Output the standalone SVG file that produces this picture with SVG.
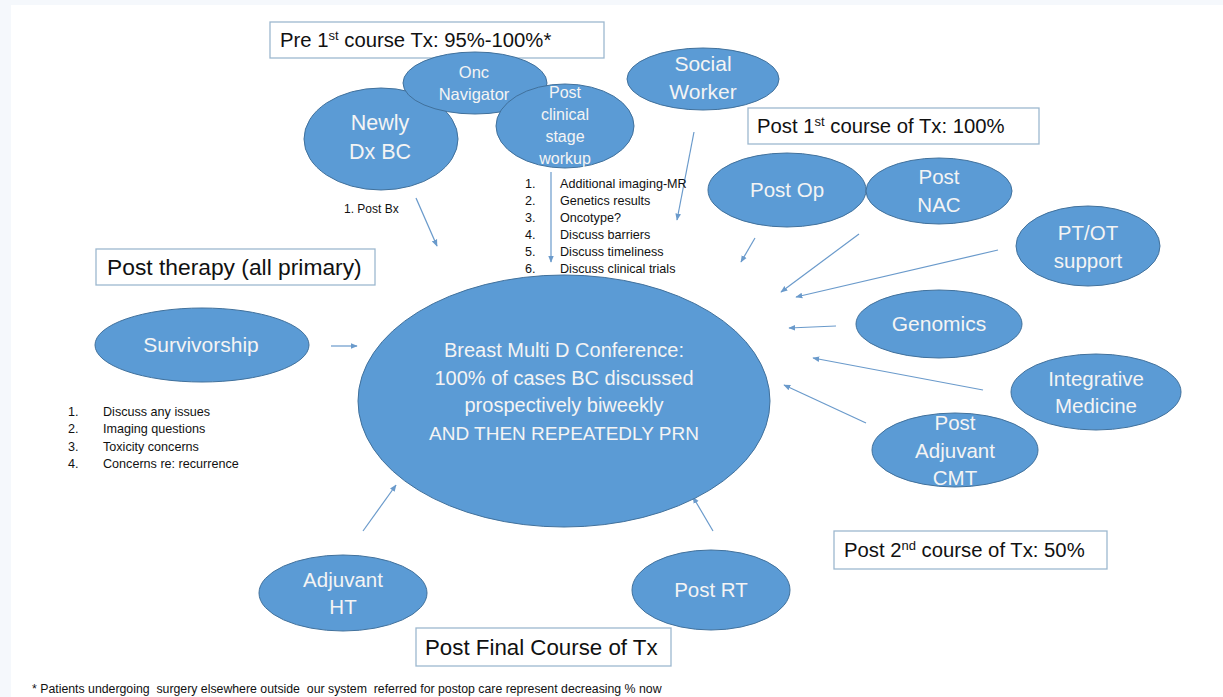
<svg xmlns="http://www.w3.org/2000/svg" width="1223" height="697" viewBox="0 0 1223 697">
<style>
.n{fill:#5b9bd5;stroke:#41719c;stroke-width:1}
.nt{fill:#f4f4f4;font-family:"Liberation Sans",Arial,sans-serif;text-anchor:middle}
.b{fill:#ffffff;stroke:#9db8cf;stroke-width:1.3}
.bt{fill:#111;font-family:"Liberation Sans",Arial,sans-serif}
.l{fill:#111;font-family:"Liberation Sans",Arial,sans-serif}
.c{stroke:#6a9acb;stroke-width:1.2;fill:none;marker-end:url(#ah)}
</style>
<defs>
<marker id="ah" viewBox="0 0 10 10" refX="9" refY="5" markerWidth="7" markerHeight="7" orient="auto" markerUnits="userSpaceOnUse">
<path d="M0,1 L10,5 L0,9 z" fill="#6a9acb"/>
</marker>
</defs>
<rect x="0" y="0" width="1223" height="697" fill="#f5f8fc"/>
<rect x="11" y="5" width="1212" height="692" fill="#ffffff"/>

<g id="connectors">
<line class="c" x1="416" y1="198" x2="437" y2="246"/>
<line class="c" x1="551" y1="172" x2="551" y2="262"/>
<line class="c" x1="694" y1="132" x2="677" y2="220"/>
<line class="c" x1="755" y1="238" x2="741" y2="262"/>
<line class="c" x1="859" y1="234" x2="781" y2="292"/>
<line class="c" x1="998" y1="250" x2="796" y2="297"/>
<line class="c" x1="836" y1="326" x2="789" y2="328"/>
<line class="c" x1="983" y1="390" x2="813" y2="358"/>
<line class="c" x1="866" y1="423" x2="784" y2="385"/>
<line class="c" x1="331" y1="346" x2="357" y2="346"/>
<line class="c" x1="363" y1="531" x2="396" y2="485"/>
<line class="c" x1="713" y1="531" x2="693" y2="497"/>
</g>

<g id="box-pre1">
<rect class="b" x="270" y="22" width="334" height="36"/>
<text class="bt" font-size="20.3" x="280" y="47">Pre 1<tspan dy="-7" font-size="13">st</tspan><tspan dy="7"> course Tx: 95%-100%*</tspan></text>
</g>
<g id="box-post1">
<rect class="b" x="748" y="108" width="291" height="36"/>
<text class="bt" font-size="20.3" x="757" y="133">Post 1<tspan dy="-7" font-size="13">st</tspan><tspan dy="7"> course of Tx: 100%</tspan></text>
</g>
<g id="box-posttherapy">
<rect class="b" x="96" y="249" width="279" height="36"/>
<text class="bt" font-size="22.8" x="107" y="275">Post therapy (all primary)</text>
</g>
<g id="box-post2">
<rect class="b" x="834" y="531" width="273" height="38"/>
<text class="bt" font-size="20.3" x="844" y="557">Post 2<tspan dy="-7" font-size="13">nd</tspan><tspan dy="7"> course of Tx: 50%</tspan></text>
</g>
<g id="box-final">
<rect class="b" x="416" y="628" width="255" height="38"/>
<text class="bt" font-size="22.3" x="425" y="655">Post Final Course of Tx</text>
</g>

<g id="node-newly">
<ellipse class="n" cx="381" cy="139" rx="77" ry="51"/>
<text class="nt" font-size="21.5" x="380" y="130">Newly</text>
<text class="nt" font-size="21.5" x="380" y="159">Dx BC</text>
</g>
<g id="node-onc">
<ellipse class="n" cx="475" cy="83" rx="72" ry="31"/>
<text class="nt" font-size="16.5" x="474" y="78">Onc</text>
<text class="nt" font-size="16.5" x="474" y="100">Navigator</text>
</g>
<g id="node-postclinical">
<ellipse class="n" cx="565" cy="126" rx="69" ry="42"/>
<text class="nt" font-size="16" x="565" y="98">Post</text>
<text class="nt" font-size="16" x="565" y="120">clinical</text>
<text class="nt" font-size="16" x="565" y="142">stage</text>
<text class="nt" font-size="16" x="565" y="164">workup</text>
</g>
<g id="node-social">
<ellipse class="n" cx="703" cy="79" rx="76" ry="31"/>
<text class="nt" font-size="21" x="703" y="71">Social</text>
<text class="nt" font-size="21" x="703" y="99">Worker</text>
</g>
<g id="node-postop">
<ellipse class="n" cx="787" cy="190" rx="79" ry="37"/>
<text class="nt" font-size="20.5" x="787" y="197">Post Op</text>
</g>
<g id="node-postnac">
<ellipse class="n" cx="939" cy="191" rx="73" ry="33"/>
<text class="nt" font-size="20.5" x="939" y="184">Post</text>
<text class="nt" font-size="20.5" x="939" y="212">NAC</text>
</g>
<g id="node-ptot">
<ellipse class="n" cx="1088" cy="246" rx="72" ry="40"/>
<text class="nt" font-size="20.5" x="1088" y="240">PT/OT</text>
<text class="nt" font-size="20.5" x="1088" y="268">support</text>
</g>
<g id="node-genomics">
<ellipse class="n" cx="939" cy="324" rx="83" ry="34"/>
<text class="nt" font-size="21" x="939" y="331">Genomics</text>
</g>
<g id="node-integrative">
<ellipse class="n" cx="1096" cy="392" rx="85" ry="38"/>
<text class="nt" font-size="20.5" x="1096" y="386">Integrative</text>
<text class="nt" font-size="20.5" x="1096" y="413">Medicine</text>
</g>
<g id="node-postadjcmt">
<ellipse class="n" cx="955" cy="450" rx="83" ry="37"/>
<text class="nt" font-size="20.5" x="955" y="430">Post</text>
<text class="nt" font-size="20.5" x="955" y="458">Adjuvant</text>
<text class="nt" font-size="20.5" x="955" y="485">CMT</text>
</g>
<g id="node-survivorship">
<ellipse class="n" cx="202" cy="345" rx="107" ry="37"/>
<text class="nt" font-size="21" x="201" y="352">Survivorship</text>
</g>
<g id="node-adjht">
<ellipse class="n" cx="343" cy="593" rx="84" ry="38"/>
<text class="nt" font-size="20.5" x="343" y="587">Adjuvant</text>
<text class="nt" font-size="20.5" x="343" y="614">HT</text>
</g>
<g id="node-postrt">
<ellipse class="n" cx="711" cy="590" rx="79" ry="40"/>
<text class="nt" font-size="20.5" x="711" y="597">Post RT</text>
</g>
<g id="node-center">
<ellipse class="n" cx="564" cy="401" rx="206" ry="126"/>
<text class="nt" font-size="20" x="564" y="357">Breast Multi D Conference:</text>
<text class="nt" font-size="20" x="564" y="385">100% of cases BC discussed</text>
<text class="nt" font-size="20" x="564" y="412">prospectively biweekly</text>
<text class="nt" font-size="19" x="564" y="440">AND THEN REPEATEDLY PRN</text>
</g>

<g id="list-postbx">
<text class="l" font-size="12" x="344" y="213">1. Post Bx</text>
</g>
<g id="list-workup" font-size="12.6">
<text class="l" x="525" y="188">1.</text><text class="l" x="560" y="188">Additional imaging-MR</text>
<text class="l" x="525" y="205">2.</text><text class="l" x="560" y="205">Genetics results</text>
<text class="l" x="525" y="222">3.</text><text class="l" x="560" y="222">Oncotype?</text>
<text class="l" x="525" y="239">4.</text><text class="l" x="560" y="239">Discuss barriers</text>
<text class="l" x="525" y="256">5.</text><text class="l" x="560" y="256">Discuss timeliness</text>
<text class="l" x="525" y="273">6.</text><text class="l" x="560" y="273">Discuss clinical trials</text>
</g>
<g id="list-survivorship" font-size="12.6">
<text class="l" x="68" y="416">1.</text><text class="l" x="103" y="416">Discuss any issues</text>
<text class="l" x="68" y="433">2.</text><text class="l" x="103" y="433">Imaging questions</text>
<text class="l" x="68" y="451">3.</text><text class="l" x="103" y="451">Toxicity concerns</text>
<text class="l" x="68" y="468">4.</text><text class="l" x="103" y="468">Concerns re: recurrence</text>
</g>
<g id="footnote">
<text class="l" font-size="12.3" x="32" y="693" xml:space="preserve">* Patients undergoing  surgery elsewhere outside  our system  referred for postop care represent decreasing % now</text>
</g>
</svg>
